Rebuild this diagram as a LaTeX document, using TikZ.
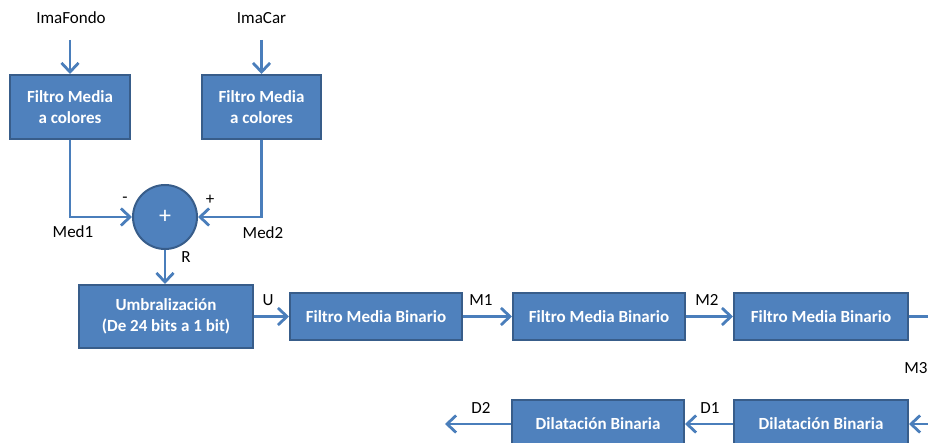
\documentclass[tikz,border=0pt]{standalone}
\usepackage{fontspec}
\setmainfont{Carlito}
\usetikzlibrary{arrows.meta}
\definecolor{boxfill}{HTML}{4F81BD}
\definecolor{boxedge}{HTML}{385D8A}
\definecolor{wire}{HTML}{4A7EBB}
\begin{document}
\begin{tikzpicture}[x=1pt,y=-1pt,
  blk/.style={draw=boxedge, line width=2pt, fill=boxfill, text=white,
    font=\fontsize{17}{21}\selectfont\bfseries, align=center,
    inner sep=0pt, minimum height=#1},
  blk/.default=47,
  sumnode/.style={circle, draw=boxedge, line width=2pt, fill=boxfill, text=white,
    font=\fontsize{24}{26}\selectfont, minimum size=64, inner sep=0pt},
  lbl/.style={font=\fontsize{17}{20}\selectfont, text=black, inner sep=0pt},
  flow/.style={draw=wire, line width=2.8pt,
    -{Straight Barb[length=9pt,width=17pt,line width=2.8pt]}},
  wireline/.style={draw=wire, line width=2.8pt}]
\useasboundingbox (0,0) rectangle (928,443);
\clip (0,0) rectangle (928,443);

% input filters
\node[blk=64, minimum width=120] (fa) at (70,107) {Filtro Media\\a colores};
\node[blk=64, minimum width=119] (fb) at (261.5,107) {Filtro Media\\a colores};
\node[lbl] (ina) at (71,18) {ImaFondo};
\node[lbl] (inb) at (261.5,18) {ImaCar};
\coordinate (ia) at (70,40);
\coordinate (ib) at (261.5,40);
\draw[flow] (ia) -- (fa.north);
\draw[flow] (ib) -- (fb.north);

% difference
\node[sumnode] (sum) at (165,217) {+};
\draw[flow] (fa.south) |- (sum.west);
\draw[flow] (fb.south) |- (sum.east);
\node[lbl] (sgnm) at (125,200) {-};
\node[lbl] (sgnp) at (210,200) {+};
\node[lbl] (med1) at (73,232) {Med1};
\node[lbl] (med2) at (263,233) {Med2};

% threshold
\node[blk=63, minimum width=174] (um) at (166,316.5) {Umbralización\\(De 24 bits a 1 bit)};
\draw[flow] (sum.south) -- (sum.south |- um.north);
\node[lbl] (r) at (186,257) {R};

% binary mean filters
\node[blk, minimum width=172] (b1) at (376,316.5) {Filtro Media Binario};
\node[blk, minimum width=172] (b2) at (599,316.5) {Filtro Media Binario};
\node[blk, minimum width=174] (b3) at (821,316.5) {Filtro Media Binario};
\draw[flow] (um.east |- b1.west) -- (b1.west);
\draw[flow] (b1.east) -- (b2.west);
\draw[flow] (b2.east) -- (b3.west);
\node[lbl] (u) at (268,300) {U};
\node[lbl] (m1) at (481,300) {M1};
\node[lbl] (m2) at (707,300) {M2};
\coordinate (m3out) at (940,316.5);
\draw[wireline] (b3.east) -- (m3out);
\node[lbl] (m3) at (916,368) {M3};

% dilations
\node[blk=48, minimum width=174] (d1) at (821,424) {Dilatación Binaria};
\node[blk=48, minimum width=172] (d2) at (598,424) {Dilatación Binaria};
\coordinate (d1in) at (940,424);
\coordinate (d2out) at (445,424);
\draw[flow] (d1in) -- (d1.east);
\draw[flow] (d1.west) -- (d2.east);
\draw[flow] (d2.west) -- (d2out);
\node[lbl] (ld1) at (710,408) {D1};
\node[lbl] (ld2) at (481,408) {D2};
\end{tikzpicture}
\end{document}
